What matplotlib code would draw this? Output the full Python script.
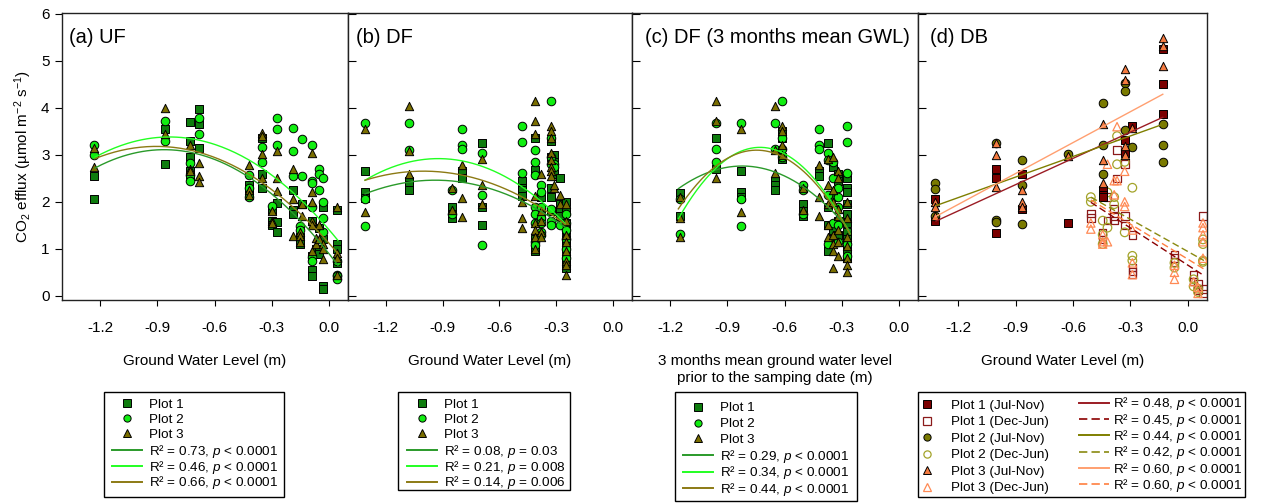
import numpy as np
import matplotlib
matplotlib.use('Agg')
import matplotlib.pyplot as plt
from matplotlib.lines import Line2D
from matplotlib.patches import Rectangle

plt.rcParams['font.family'] = ['Liberation Sans', 'DejaVu Sans']
plt.rcParams['mathtext.fontset'] = 'custom'
plt.rcParams['mathtext.rm'] = 'Liberation Sans'
plt.rcParams['mathtext.it'] = 'Liberation Sans:italic'
plt.rcParams['axes.unicode_minus'] = False

# ---- data ----
# (a) UF : ground water level columns and CO2 efflux per plot
ua_gwl = [-1.23, -0.86, -0.73, -0.68, -0.42, -0.35, -0.30, -0.27, -0.19, -0.15, -0.14, -0.09, -0.07, -0.05, -0.03, 0.04]
ua_p1 = [[2.55, 2.07], [3.55, 2.8], [3.7, 3.3, 2.95, 2.65, 2.55], [3.98, 3.65, 3.15], [2.35, 2.25, 2.15],
         [3.35, 2.6, 2.3], [1.82, 1.6, 1.5], [1.97, 1.58, 1.35], [2.25, 1.82, 1.75], [1.25, 1.1], [1.95],
         [1.6, 0.85, 0.55, 0.42], [1.0], [1.45, 1.0, 0.88], [1.88, 1.2, 0.2, 0.15], [1.82, 1.1, 1.0, 0.7]]
ua_p2 = [[3.2, 3.0], [3.73, 3.3], [2.82, 2.58, 2.45], [3.78, 3.45], [2.58, 2.3, 2.1], [3.17, 2.85], [1.92],
         [3.78, 3.55, 3.2], [3.58, 3.08, 2.55], [1.48, 1.4], [3.33, 2.55], [3.22, 2.45, 2.4, 1.9, 0.82, 0.75],
         [], [2.7, 2.6, 2.25], [2.5, 2.0, 1.65, 1.35], [0.75, 0.45, 0.42, 0.35]]
ua_p3 = [[3.15, 2.75], [4.0, 3.45], [3.2, 2.7, 2.65], [2.82, 2.55, 2.42], [2.78, 2.25, 2.15],
         [3.47, 3.4, 3.02, 2.5], [1.8, 1.6, 1.55], [3.08, 2.5, 2.22], [2.7, 2.05, 1.28], [1.35, 1.28, 1.15],
         [1.95, 1.7], [3.05, 2.2, 2.0, 1.6, 1.5, 0.95], [1.22, 1.1], [1.5, 1.2], [1.1, 1.0, 0.78],
         [1.88, 0.9, 0.8, 0.45]]
ua_fit_x = [[-1.227, -0.87, 0.047], [-1.227, -0.82, 0.047], [-1.227, -0.90, 0.047]]
ua_fit_y = [[2.72, 3.11, 0.65], [2.95, 3.38, 1.18], [2.92, 3.18, 0.90]]
ua_labels = ['R² = 0.73, $p$ < 0.0001', 'R² = 0.46, $p$ < 0.0001', 'R² = 0.66, $p$ < 0.0001']

# (b) DF
df_gwl = [-1.31, -1.08, -0.85, -0.80, -0.69, -0.48, -0.41, -0.38, -0.33, -0.31, -0.28, -0.25]
df_p1 = [[2.65, 2.2, 2.08], [2.45, 2.35, 2.25], [1.9, 1.75, 1.65], [2.65, 2.5], [3.25, 1.88, 1.5],
         [2.45, 2.3, 2.25, 2.12], [3.35, 2.68, 1.2, 1.0, 0.95], [2.1, 1.85, 1.7], [3.3, 2.95, 2.3, 2.1, 1.8],
         [3.0, 2.85, 2.75, 2.6], [2.5, 1.95, 1.8, 1.7], [2.0, 1.8, 1.55, 1.4, 1.2, 1.1, 1.0, 0.8, 0.7, 0.6]]
df_p2 = [[3.68, 2.05, 1.48], [3.67, 3.1], [2.25, 1.75], [3.55, 3.22, 3.12], [3.05, 2.15, 1.08],
         [3.62, 3.28, 2.62], [3.1, 2.85, 2.58, 1.9, 1.75, 1.55, 1.15, 1.08], [2.35, 2.2, 1.9, 1.65, 1.55, 1.35, 1.3],
         [4.15, 3.35, 2.95, 2.8, 1.85, 1.6, 1.5], [2.8, 2.75], [1.5], [1.75, 1.55, 1.4, 1.2, 1.0, 0.8]]
df_p3 = [[3.55, 1.78], [4.05, 3.08, 2.6], [2.3, 1.82], [2.78, 2.08, 1.68], [2.92, 2.35, 1.95], [2.0, 1.65, 1.45],
         [4.15, 3.72, 3.45, 2.12, 1.55, 1.4, 1.25, 1.0], [2.6, 1.8, 1.6, 1.35, 1.25],
         [3.62, 3.5, 3.35, 3.05, 2.9, 2.75, 2.65, 2.55], [2.3, 2.35], [2.15, 1.95],
         [1.95, 1.6, 1.3, 1.15, 0.95, 0.75, 0.65, 0.45]]
df_fit_x = [[-1.31, -0.92, -0.253], [-1.31, -0.918, -0.253], [-1.31, -1.04, -0.253]]
df_fit_y = [[2.17, 2.46, 1.46], [2.46, 2.92, 1.54], [2.46, 2.65, 1.52]]
df_labels = ['R² = 0.08, $p$ = 0.03', 'R² = 0.21, $p$ = 0.008', 'R² = 0.14, $p$ = 0.006']

# (c) DF, 3 months mean GWL
dfm_gwl = [-1.15, -0.96, -0.83, -0.65, -0.615, -0.505, -0.42, -0.37, -0.345, -0.32, -0.275]
dfm_p1 = [[2.18, 1.7], [3.35, 2.7], [2.65, 2.2, 2.1], [2.45, 2.35, 2.25], [3.5, 3.35, 2.95, 2.92], [1.95, 1.8, 1.7],
          [2.65, 2.55], [3.25, 1.88, 1.5, 1.0, 0.95], [2.75, 2.1, 1.4, 1.2], [2.6, 2.45, 1.6, 1.3],
          [2.5, 2.3, 2.2, 1.95, 1.75, 1.55, 1.35, 1.2, 1.0, 0.8]]
dfm_p2 = [[2.05, 1.32], [3.67, 3.12, 2.85], [3.68, 2.06, 1.48], [3.67, 3.12], [4.15, 3.35, 3.12, 2.95],
          [2.35, 2.25, 1.75], [3.55, 3.22, 3.12], [3.05, 2.9, 2.15, 1.1], [2.85, 2.5, 1.55],
          [2.3, 2.1, 1.9, 1.5, 1.15], [3.62, 3.28, 2.62, 1.1, 0.85]]
dfm_p3 = [[2.1, 1.65, 1.25], [4.15, 3.72, 2.5], [3.55, 1.78], [4.05, 3.1, 2.62], [3.62, 3.5, 3.2, 3.0], [2.3, 1.82],
          [2.78, 2.1, 1.7], [2.92, 2.35, 1.95, 1.5, 1.25], [2.95, 2.25, 2.0, 1.3, 1.1, 0.95, 0.6],
          [2.65, 2.5, 1.85, 1.7, 1.4, 1.15, 0.85], [2.0, 1.65, 1.25, 1.05, 0.8, 0.65, 0.5]]
dfm_fit_x = [[-1.157, -0.80, -0.257], [-1.157, -0.694, -0.257], [-1.157, -0.746, -0.257]]
dfm_fit_y = [[2.28, 2.76, 1.39], [1.64, 3.15, 1.32], [1.85, 3.10, 1.32]]
dfm_labels = ['R² = 0.29, $p$ < 0.0001', 'R² = 0.34, $p$ < 0.0001', 'R² = 0.44, $p$ < 0.0001']

# (d) DB : Jul-Nov (filled) and Dec-Jun (open)
db_gwl_jn = [-1.32, -1.0, -0.865, -0.625, -0.445, -0.33, -0.29, -0.13]
db_p1_jn = [[2.05, 1.6], [2.7, 2.5, 1.33], [2.6, 1.85], [1.55], [2.25, 2.15, 2.1], [3.31, 3.05], [3.62], [5.25, 4.5, 3.86]]
db_p2_jn = [[2.4, 2.28, 1.7], [3.25, 1.62, 1.58], [2.9, 2.35, 1.52], [3.02], [4.1, 3.2, 2.6], [4.54, 4.37, 3.53], [3.17],
            [3.65, 3.22, 2.84]]
db_p3_jn = [[2.0, 1.9, 1.7], [3.25, 3.0, 2.32], [2.25, 2.0, 1.9], [2.98], [3.65, 2.9, 2.4], [4.82, 4.6, 3.18, 3.0], [3.58],
            [5.48, 5.32, 4.89]]
db_gwl_dj = [-0.507, -0.445, -0.42, -0.385, -0.37, -0.33, -0.29, -0.07, 0.03, 0.053, 0.079]
db_p1_dj = [[1.75, 1.65], [1.35, 1.2], [2.1, 1.6], [1.85, 1.7, 1.6], [3.1, 2.5], [2.8, 1.7, 1.5], [1.3, 0.6, 0.52, 0.45],
            [0.88, 0.8, 0.72], [0.45, 0.3], [0.25, 0.12], [1.7, 0.15, 0.05]]
db_p2_dj = [[2.1, 2.0], [1.6, 1.3, 1.1], [2.2, 1.45], [2.1, 1.95], [3.4, 2.8], [2.85, 1.35], [2.3, 0.85, 0.75],
            [0.7, 0.6], [0.35, 0.2], [0.15, 0.08], [1.2, 1.1, 0.75, 0.72]]
db_p3_dj = [[1.55, 1.42], [1.3, 1.15, 1.1], [2.8, 1.15], [2.45, 2.15], [3.6, 2.45], [2.65, 2.0, 1.9], [1.4, 0.7, 0.45],
            [0.65, 0.5, 0.35], [0.3], [0.18, 0.05], [1.55, 1.45, 1.3, 1.15, 0.8]]
db_fit_x_jn = [-1.316, -0.131]
db_fit_y_jn = [[1.59, 3.80], [1.92, 3.65], [1.69, 4.29]]
db_fit_x_dj = [-0.507, 0.084]
db_fit_y_dj = [[1.99, 0.43], [2.10, 0.75], [2.04, 0.57]]
db_labels_jn = ['R² = 0.48, $p$ < 0.0001', 'R² = 0.44, $p$ < 0.0001', 'R² = 0.60, $p$ < 0.0001']
db_labels_dj = ['R² = 0.45, $p$ < 0.0001', 'R² = 0.42, $p$ < 0.0001', 'R² = 0.60, $p$ < 0.0001']

plot_names = ['Plot 1', 'Plot 2', 'Plot 3']
xticks = [-1.2, -0.9, -0.6, -0.3, 0.0]

# ---- styles ----
mk = ['s', 'o', '^']
msz = [30, 38, 36]
green_fc = ['#0e7c0e', '#11ee11', '#7a6e00']
green_lc = ['#2a9a2a', '#22ff22', '#8c7a14']
db_fc = ['#7b0000', '#7a7a00', '#f47a40']
db_oc = ['#8b1a1a', '#a3a32a', '#ff8a55']
db_lc_jn = ['#9b1c24', '#7f7f00', '#ff9f70']
db_lc_dj = ['#8b0000', '#8a8a10', '#ff7f40']
dash = (0, (5, 2.5))

W, H = 1267, 503
def fx(px):
    return px / W
def fy(py):
    return 1 - py / H

fig = plt.figure(figsize=(W / 100, H / 100), dpi=100)
lefts = [62, 348, 632, 918]
widths = [286, 284, 286, 289]
axes = [fig.add_axes([fx(l), fy(300), w / W, 287 / H]) for l, w in zip(lefts, widths)]

def expand(gwl, vals):
    x = np.repeat(gwl, [len(v) for v in vals])
    y = np.concatenate([np.array(v, dtype=float) for v in vals])
    return x, y

def quad_curve(ax, xs, ys, color):
    c = np.polyfit(xs, ys, 2)
    xx = np.linspace(xs[0], xs[-1], 150)
    ax.plot(xx, np.polyval(c, xx), color=color, lw=1.0, zorder=5)

green_sets = [(ua_gwl, [ua_p1, ua_p2, ua_p3], ua_fit_x, ua_fit_y),
              (df_gwl, [df_p1, df_p2, df_p3], df_fit_x, df_fit_y),
              (dfm_gwl, [dfm_p1, dfm_p2, dfm_p3], dfm_fit_x, dfm_fit_y)]
for ax, (gwl, plots, fxs, fys) in zip(axes[:3], green_sets):
    for i in range(3):
        x, y = expand(gwl, plots[i])
        ax.scatter(x, y, s=msz[i], marker=mk[i], c=green_fc[i], edgecolors='k', linewidths=0.7, zorder=3)
    for i in range(3):
        quad_curve(ax, fxs[i], fys[i], green_lc[i])

ax = axes[3]
jn = [db_p1_jn, db_p2_jn, db_p3_jn]
dj = [db_p1_dj, db_p2_dj, db_p3_dj]
for i in range(3):
    x, y = expand(db_gwl_dj, dj[i])
    ax.scatter(x, y, s=msz[i], marker=mk[i], facecolors='none', edgecolors=db_oc[i], linewidths=0.9, zorder=3)
for i in range(3):
    x, y = expand(db_gwl_jn, jn[i])
    ax.scatter(x, y, s=msz[i], marker=mk[i], c=db_fc[i], edgecolors='k', linewidths=0.7, zorder=4)
for i in range(3):
    ax.plot(db_fit_x_jn, db_fit_y_jn[i], color=db_lc_jn[i], lw=1.0, zorder=5)
    ax.plot(db_fit_x_dj, db_fit_y_dj[i], color=db_lc_dj[i], lw=1.0, ls=dash, zorder=5)

titles = ['(a) UF', '(b) DF', '(c) DF (3 months mean GWL)', '(d) DB']
title_x = [0.026, 0.029, 0.047, 0.043]
xlabels = ['Ground Water Level (m)', 'Ground Water Level (m)',
           '3 months mean ground water level\nprior to the samping date (m)', 'Ground Water Level (m)']
for k, ax in enumerate(axes):
    ax.set_xlim(-1.4 if k < 3 else -1.41, 0.1)
    ax.set_ylim(-0.09, 6.02)
    ax.set_xticks(xticks)
    ax.set_xticklabels(['%.1f' % v for v in xticks])
    ax.set_yticks(range(7))
    ax.tick_params(axis='x', direction='out', length=4, width=0.8, labelsize=11, pad=11)
    if k == 0:
        ax.tick_params(axis='y', direction='out', length=5, width=0.8, labelsize=11, pad=4)
    else:
        ax.tick_params(axis='y', direction='in', length=6, width=0.8, labelleft=False)
    for sp in ax.spines.values():
        sp.set_color('#222222')
        sp.set_linewidth(1.0)
    ax.text(title_x[k], 0.915, titles[k], transform=ax.transAxes, fontsize=14.5, ha='left', va='center')
    ax.set_xlabel(xlabels[k], fontsize=11, labelpad=14, linespacing=1.25)

fig.text(fx(23.5), fy(156.5), 'CO$_2$ efflux (µmol m$^{-2}$ s$^{-1}$)', rotation=90,
         ha='center', va='center', fontsize=11)

# ---- legends: each box is built from frameless legend groups and a drawn frame ----
def group(handles, labels, x, y, hl, htp, ls):
    fig.legend(handles, labels, loc='upper left', bbox_to_anchor=(fx(x), fy(y)), bbox_transform=fig.transFigure,
               frameon=False, fontsize=9.7, handlelength=hl, handletextpad=htp, borderpad=0,
               labelspacing=ls, borderaxespad=0)

def frame(x0, y0, x1, y1):
    fig.add_artist(Rectangle((fx(x0), fy(y1)), fx(x1) - fx(x0), fy(y0) - fy(y1), transform=fig.transFigure,
                             fill=False, ec='k', lw=1.0, zorder=10))

mark_h = [Line2D([], [], ls='none', marker=mk[i], ms=5.2, mfc=green_fc[i], mec='k', mew=0.7) for i in range(3)]
line_h = [Line2D([], [], color=green_lc[i], lw=1.4) for i in range(3)]
leg_boxes = [(104, 392, 284, 497), (398, 392, 570, 490), (675, 392, 857, 501)]
leg_hx = [112, 407, 683]
leg_top1 = [398.5, 398.5, 402]
leg_top2 = [443, 443, 448]
leg_ls1 = [0.19, 0.19, 0.25]
leg_ls2 = [-0.10, -0.10, -0.05]
leg_labels = [ua_labels, df_labels, dfm_labels]
for k in range(3):
    group(mark_h, plot_names, leg_hx[k], leg_top1[k], 2.25, 0.5, leg_ls1[k])
    group(line_h, leg_labels[k], leg_hx[k], leg_top2[k], 2.25, 0.5, leg_ls2[k])
    frame(*leg_boxes[k])

dh = []
dl = []
for i in range(3):
    dh.append(Line2D([], [], ls='none', marker=mk[i], ms=5.2, mfc=db_fc[i], mec='k', mew=0.7))
    dl.append(plot_names[i] + ' (Jul-Nov)')
    dh.append(Line2D([], [], ls='none', marker=mk[i], ms=5.2, mfc='white', mec=db_oc[i], mew=0.9))
    dl.append(plot_names[i] + ' (Dec-Jun)')
lh = []
ll = []
for i in range(3):
    lh.append(Line2D([], [], color=db_lc_jn[i], lw=1.4))
    ll.append(db_labels_jn[i])
    lh.append(Line2D([], [], color=db_lc_dj[i], lw=1.2, ls=dash))
    ll.append(db_labels_dj[i])
group(dh, dl, 922.7, 399.5, 0.6, 1.5, 0.30)
group(lh, ll, 1079.3, 395.5, 2.2, 0.3, -0.05)
frame(918, 392, 1245, 497)

fig.savefig('out.png', dpi=100)
